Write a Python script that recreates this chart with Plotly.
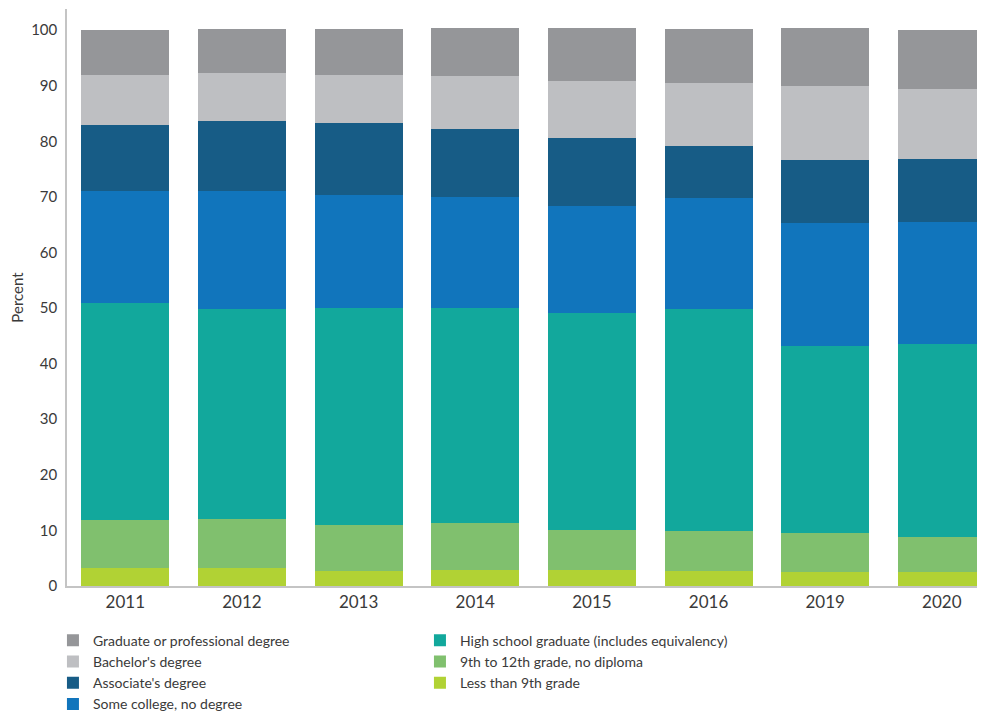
import plotly.graph_objects as go

years = ["2011", "2012", "2013", "2014", "2015", "2016", "2019", "2020"]

less_than_9th = [3.3, 3.3, 2.7, 2.9, 2.9, 2.7, 2.5, 2.5]
grade_9_to_12 = [8.6, 8.75, 8.3, 8.4, 7.2, 7.2, 7.0, 6.3]
high_school = [39.0, 37.75, 39.05, 38.75, 39.0, 39.9, 33.7, 34.7]
some_college = [20.1, 21.2, 20.25, 19.95, 19.2, 20.0, 22.1, 22.0]
associates = [11.9, 12.6, 13.0, 12.2, 12.3, 9.3, 11.3, 11.3]
bachelors = [9.0, 8.7, 8.6, 9.5, 10.2, 11.4, 13.3, 12.6]
graduate = [8.1, 7.9, 8.3, 8.7, 9.6, 9.7, 10.5, 10.6]

series = [
    ("Less than 9th grade", less_than_9th, "#b1d234", 6),
    ("9th to 12th grade, no diploma", grade_9_to_12, "#80c06e", 4),
    ("High school graduate (includes equivalency)", high_school, "#12a89c", 2),
    ("Some college, no degree", some_college, "#1175bc", 7),
    ("Associate's degree", associates, "#175c86", 5),
    ("Bachelor's degree", bachelors, "#bebfc2", 3),
    ("Graduate or professional degree", graduate, "#959699", 1),
]

FONT = "Lato, 'Open Sans', sans-serif"

fig = go.Figure()
for name, vals, color, rank in series:
    fig.add_trace(go.Bar(
        x=years, y=vals, name=name, marker=dict(color=color, line=dict(width=0)),
        legendrank=rank,
    ))

# the page body adds an 8px offset; margins compensate for it
fig.update_layout(
    barmode="stack",
    bargap=0.245,
    width=985, height=713,
    margin=dict(l=59, r=8, t=1, b=135, autoexpand=False),
    paper_bgcolor="white", plot_bgcolor="white",
    font=dict(family=FONT, size=15, color="#3a3a3a"),
    showlegend=True,
    legend=dict(
        orientation="h", x=-0.0153, xanchor="left",
        y=-0.0672, yanchor="top",
        entrywidth=322, entrywidthmode="pixels",
        font=dict(size=14, color="#3a3a3a"),
        traceorder="normal", itemsizing="constant",
    ),
    xaxis=dict(
        type="category", range=[-0.5, 7.37], automargin=False,
        showline=True, linecolor="#c4c4c4", linewidth=1.5,
        showgrid=False, ticks="", tickfont=dict(size=17, color="#3a3a3a"),
    ),
    yaxis=dict(
        range=[0, 103.8], tickvals=[0, 10, 20, 30, 40, 50, 60, 70, 80, 90, 100],
        automargin=False,
        showline=True, linecolor="#c4c4c4", linewidth=1.5,
        showgrid=False, zeroline=False, ticks="", ticklabelstandoff=5,
        tickfont=dict(size=15, color="#3a3a3a"),
        title=dict(text="Percent", font=dict(size=15, color="#3a3a3a"), standoff=20),
    ),
)

fig.write_html("out.html")
